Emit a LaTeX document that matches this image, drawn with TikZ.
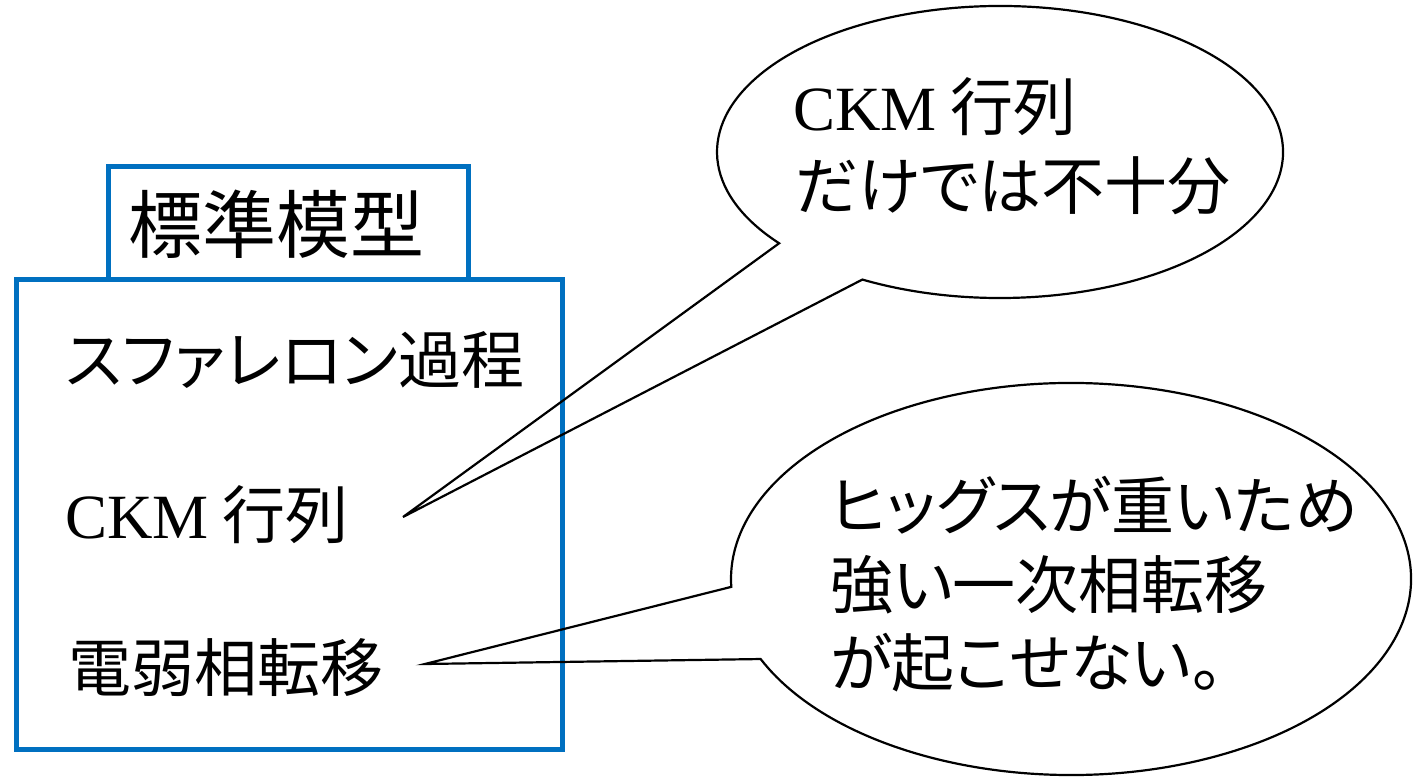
\documentclass[tikz,border=0pt]{standalone}
\usepackage{fontspec}
\setmainfont{Liberation Serif}
\newfontfamily\jpfont{Noto Sans CJK JP}[RawFeature=+palt]
\definecolor{boxblue}{HTML}{0070C0}
\begin{document}
\begin{tikzpicture}[x=1pt,y=1pt,
  bluebox/.style={draw=boxblue, line width=5pt},
  bubble/.style={draw=black, line width=2.2pt, line join=miter},
  jtext/.style={inner sep=0pt, anchor=west, font=\fontsize{63}{75}\selectfont\jpfont},
  ]
\useasboundingbox (0,0) rectangle (1422,779);
% boxes
\draw[bluebox] (108.5,612.5) rectangle (468.5,499.5);
\draw[bluebox] (16.5,499.5) rectangle (562,29.5);
% left texts
\node[jtext, font=\fontsize{74}{80}\selectfont\jpfont] (title) at (128,555) {標準模型};
\node[jtext] (sph) at (65,419) {スファレロン過程};
\node[jtext] (ckm) at (65,264) {{\rmfamily CKM} 行列};
\node[jtext] (ewpt) at (68,111) {電弱相転移};
% top bubble
\coordinate (c1) at (1000,627);
\coordinate (tip1) at (403,262);
\draw[bubble] ([shift={(240.9:283 and 146)}]c1) arc[start angle=240.9, end angle=578.7, x radius=283pt, y radius=146pt] -- (tip1) -- cycle;
\node[jtext] (b1a) at (793,672) {{\rmfamily CKM} 行列};
\node[jtext] (b1b) at (795,593) {だけでは不十分};
% bottom bubble
\coordinate (c2) at (1071,200);
\coordinate (tip2) at (425,115);
\draw[bubble] ([shift={(204.1:340 and 196)}]c2) arc[start angle=204.1, end angle=542.3, x radius=340pt, y radius=196pt] -- (tip2) -- cycle;
\node[jtext] (b2a) at (830,274) {ヒッグスが重いため};
\node[jtext] (b2b) at (830,194) {強い一次相転移};
\node[jtext] (b2c) at (830,116) {が起こせない。};
\end{tikzpicture}
\end{document}
